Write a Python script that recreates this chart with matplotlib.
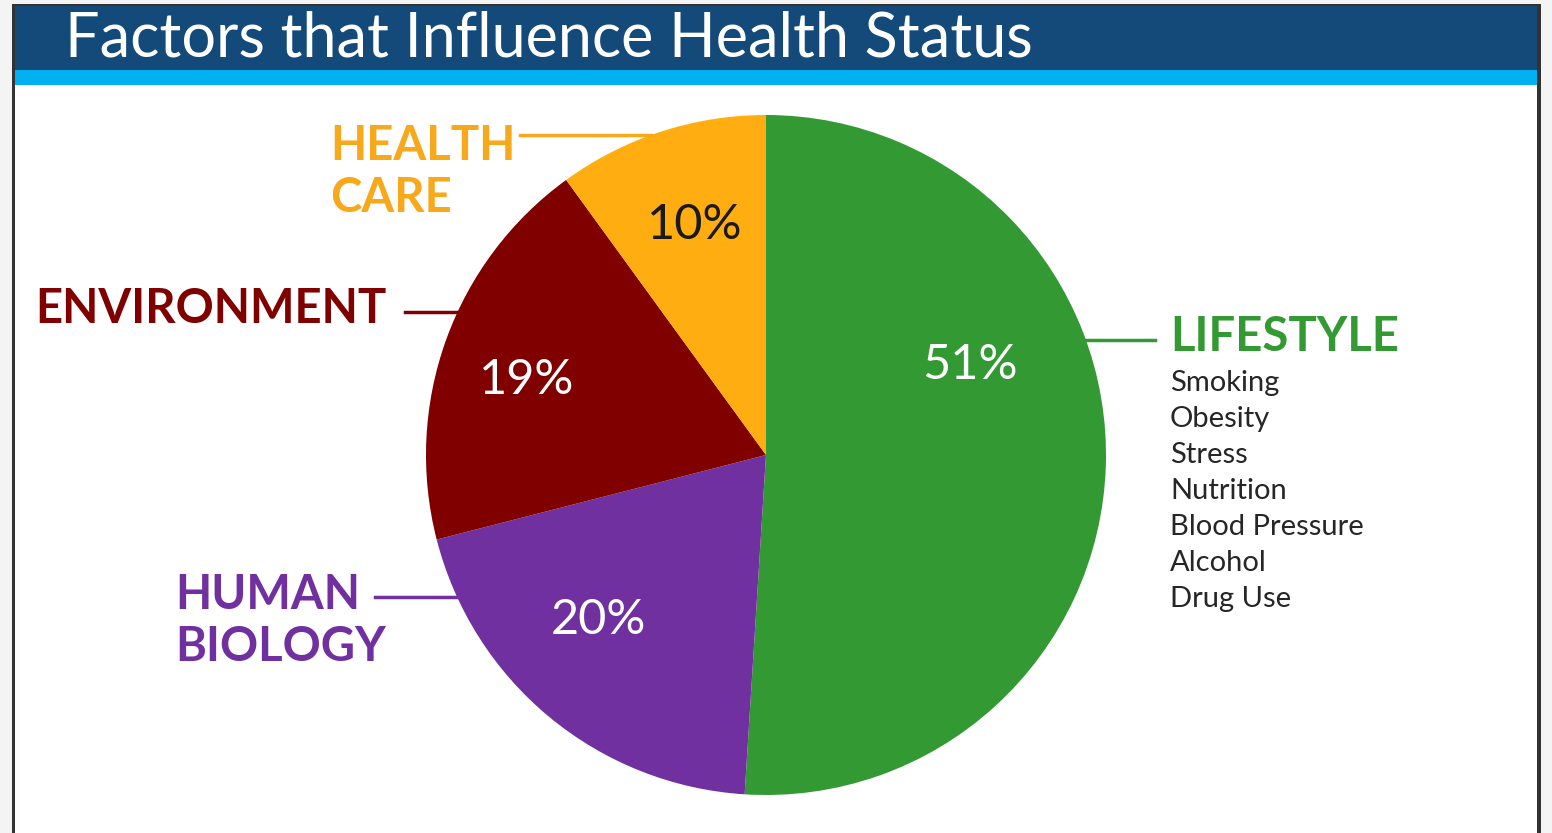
"""
Factors that influence health status - pie chart
"""

import numpy as np
import matplotlib.pyplot as plt
from matplotlib.patches import Rectangle

# data
categories = ['LIFESTYLE', 'HUMAN\nBIOLOGY', 'ENVIRONMENT', 'HEALTH\nCARE']
shares = [51, 20, 19, 10]
slice_colors = ['#339933', '#7030a0', '#800000', '#ffad11']
label_colors = ['#339933', '#7030a0', '#800000', '#f7a81b']
pct_colors = ['white', 'white', 'white', '#1a1a1a']
lifestyle_items = ['Smoking', 'Obesity', 'Stress', 'Nutrition',
                   'Blood Pressure', 'Alcohol', 'Drug Use']
title = 'Factors that Influence Health Status'

W, H = 1552, 833
font = 'Lato'


def py(y):
    #  image row -> data y
    return H - y


fig = plt.figure(figsize=(W / 100, H / 100), dpi=100)
fig.patch.set_facecolor('#f4f4f4')
ax = fig.add_axes([0, 0, 1, 1])

#  Frame, header band and stripe
ax.add_patch(Rectangle((12, 0), 1529, py(4), facecolor='#333333', lw=0))
ax.add_patch(Rectangle((15, 0), 1522, py(85), facecolor='white', lw=0))
ax.add_patch(Rectangle((15, py(70)), 1522, 64, facecolor='#134a7a', lw=0))
ax.add_patch(Rectangle((15, py(85)), 1522, 15, facecolor='#00b0f0', lw=0))
ax.text(65, py(39), title, color='white', fontsize=44, family=font,
        va='center', ha='left')

#  Pie
cx, cy, r = 766, py(455), 340
ax.pie(shares, colors=slice_colors, startangle=90, counterclock=False,
       center=(cx, cy), radius=r, frame=True,
       wedgeprops=dict(linewidth=0))

#  Percent labels
pct_pos = [(970, 365), (598, 620), (527, 380), (695, 225)]
for val, (x, y), c in zip(shares, pct_pos, pct_colors):
    ax.text(x, py(y), f'{val}%', color=c, fontsize=35, family=font,
            ha='center', va='center')

#  Category labels with leader lines to the pie edge
label_specs = [
    # (text x, text y, line y, line start x or None for right side)
    (1170, 337, 340, None),
    (175, 621, 597, 375),
    (35, 309, 312, 405),
    (330, 172, 135, 520),
]
for cat, col, (tx, ty, ly, x0) in zip(categories, label_colors, label_specs):
    ax.text(tx, py(ty), cat, color=col, fontsize=34, family=font,
            fontweight='bold', ha='left', va='center', linespacing=1.22)
    dx = np.sqrt(r ** 2 - (py(ly) - cy) ** 2)
    if x0 is None:
        xs = [cx + dx, tx - 15]
    else:
        xs = [x0, cx - dx]
    ax.plot(xs, [py(ly), py(ly)], color=col, lw=2.5)

#  Lifestyle items
for i, item in enumerate(lifestyle_items):
    ax.text(1170, py(383 + i * 36), item, color='#262626', fontsize=21,
            family=font, ha='left', va='center')

ax.set_xlim(0, W)
ax.set_ylim(0, H)
ax.set_aspect('equal')
ax.axis('off')

fig.savefig('out.png', dpi=100, facecolor=fig.get_facecolor())
